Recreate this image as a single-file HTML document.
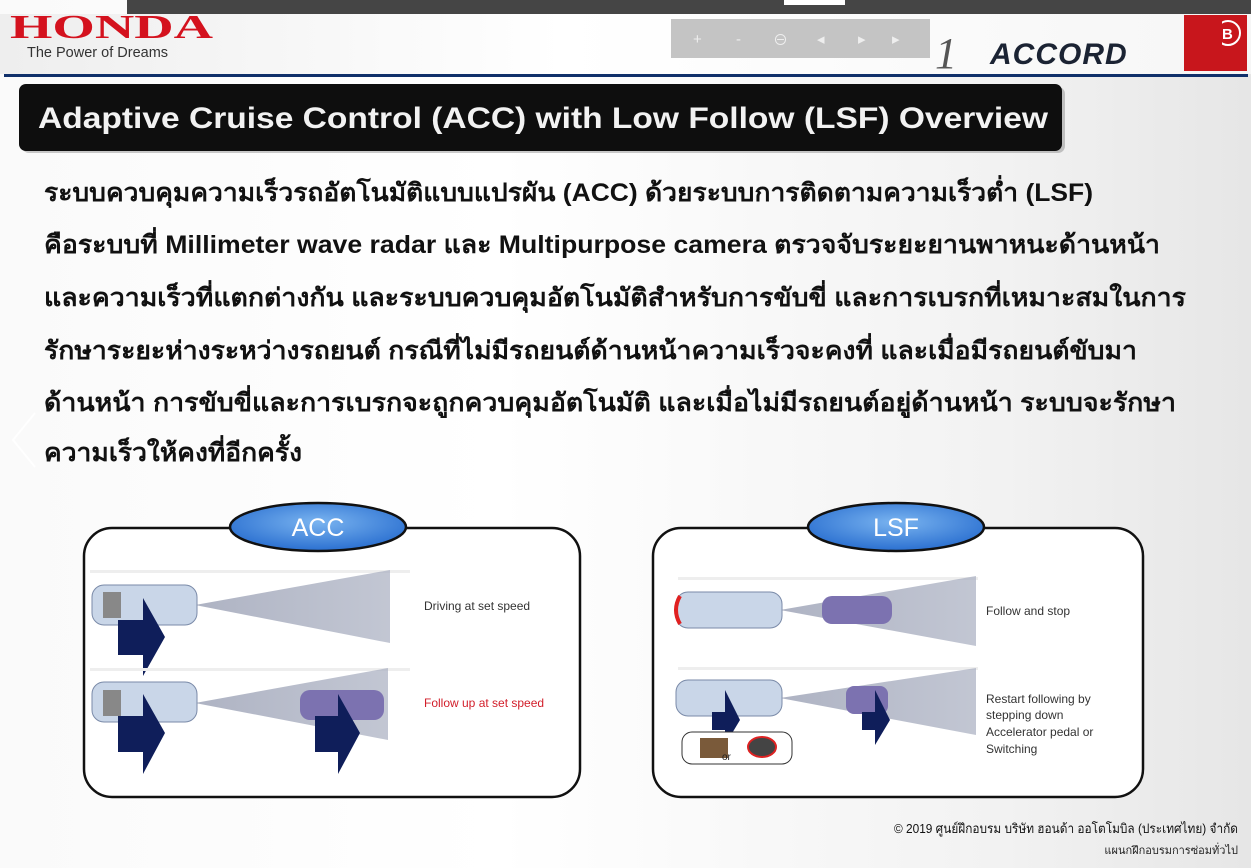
<!DOCTYPE html>
<html><head><meta charset="utf-8">
<style>
html,body{margin:0;padding:0;width:1251px;height:868px;overflow:hidden;background:#fff}
.wrap{position:relative;width:1251px;height:868px;background:linear-gradient(90deg,#fafafa 0%,#fff 40%,#f2f2f2 80%,#e6e6e6 100%);font-family:"Liberation Sans","Noto Sans CJK SC",sans-serif}
svg{position:absolute;left:0;top:0}
.th{font-family:"Liberation Sans","DejaVu Sans",sans-serif;font-size:25px;font-weight:bold;fill:#111}
</style></head><body><div class="wrap">
<svg width="1251" height="868" viewBox="0 0 1251 868">
<defs>
<linearGradient id="hdr" x1="0" x2="1"><stop offset="0" stop-color="#eee"/><stop offset="0.45" stop-color="#fff"/><stop offset="1" stop-color="#f6f6f6"/></linearGradient>
<radialGradient id="ell" cx="0.5" cy="0.4" r="0.6"><stop offset="0" stop-color="#7ab4f0"/><stop offset="1" stop-color="#2a6fd0"/></radialGradient>
<linearGradient id="beam" x1="0" x2="1"><stop offset="0" stop-color="#9aa0b4" stop-opacity="0.8"/><stop offset="1" stop-color="#a8aec0" stop-opacity="0.7"/></linearGradient>
</defs>
<rect x="0" y="14" width="1251" height="60" fill="url(#hdr)"/>
<rect x="127" y="0" width="1124" height="14" fill="#454545"/>
<rect x="784" y="0" width="61" height="5" fill="#fff"/>
<text x="10" y="38" font-family="Liberation Serif" font-weight="bold" font-size="34" fill="#d4121e" textLength="203" lengthAdjust="spacingAndGlyphs">HONDA</text>
<text x="27" y="57" font-size="14.5" fill="#333">The Power of Dreams</text>
<rect x="671" y="19" width="259" height="39" fill="#c4c4c4"/>
<g fill="#eee" font-size="15"><text x="693" y="44">+</text><text x="736" y="44">-</text><text x="773" y="45">⊖</text><text x="817" y="44">◂</text><text x="858" y="44">▸</text><text x="892" y="44">▸</text></g>
<text x="935" y="68" font-family="Liberation Serif" font-style="italic" font-size="44" fill="#555">1</text>
<text x="990" y="64" font-size="30" font-weight="bold" font-style="italic" fill="#1b2333" letter-spacing="1">ACCORD</text>
<rect x="1184" y="15" width="63" height="56" fill="#c8161c"/>
<circle cx="1228" cy="33" r="12" fill="none" stroke="#fff" stroke-width="2"/>
<text x="1222" y="39" font-size="15" fill="#fff" font-weight="bold">B</text>
<rect x="1202" y="15" width="20" height="41" fill="#c8161c"/>
<rect x="4" y="74" width="1244" height="3" fill="#10306a"/>
<rect x="22" y="87" width="1043" height="66" rx="7" fill="#666" opacity="0.35"/>
<rect x="19" y="84" width="1043" height="67" rx="7" fill="#0e0e0e"/>
<text x="38" y="128" font-size="30" font-weight="bold" fill="#f2f2f2" font-family="Liberation Sans" textLength="1010" lengthAdjust="spacingAndGlyphs">Adaptive Cruise Control (ACC) with Low Follow (LSF) Overview</text>
<path d="M35 413 L13 440 L35 467" fill="none" stroke="#fff" stroke-width="2"/>

<text class="th" x="44" y="201" textLength="1049" lengthAdjust="spacingAndGlyphs">ระบบควบคุมความเร็วรถอัตโนมัติแบบแปรผัน (ACC) ด้วยระบบการติดตามความเร็วต่ำ (LSF)</text>
<text class="th" x="44" y="253" textLength="1116" lengthAdjust="spacingAndGlyphs">คือระบบที่ Millimeter wave radar และ Multipurpose camera ตรวจจับระยะยานพาหนะด้านหน้า</text>
<text class="th" x="44" y="306" textLength="1142" lengthAdjust="spacingAndGlyphs">และความเร็วที่แตกต่างกัน และระบบควบคุมอัตโนมัติสำหรับการขับขี่ และการเบรกที่เหมาะสมในการ</text>
<text class="th" x="44" y="359" textLength="1093" lengthAdjust="spacingAndGlyphs">รักษาระยะห่างระหว่างรถยนต์ กรณีที่ไม่มีรถยนต์ด้านหน้าความเร็วจะคงที่ และเมื่อมีรถยนต์ขับมา</text>
<text class="th" x="44" y="411" textLength="1132" lengthAdjust="spacingAndGlyphs">ด้านหน้า การขับขี่และการเบรกจะถูกควบคุมอัตโนมัติ และเมื่อไม่มีรถยนต์อยู่ด้านหน้า ระบบจะรักษา</text>
<text class="th" x="44" y="461" textLength="258" lengthAdjust="spacingAndGlyphs">ความเร็วให้คงที่อีกครั้ง</text>

<!-- ACC box -->
<rect x="84" y="528" width="496" height="269" rx="28" fill="#fff" stroke="#111" stroke-width="2.5"/>
<ellipse cx="318" cy="527" rx="88" ry="24" fill="url(#ell)" stroke="#111" stroke-width="2.5"/>
<text x="318" y="536" text-anchor="middle" font-size="25" fill="#fff">ACC</text>
<rect x="90" y="570" width="320" height="3" fill="#eee"/>
<polygon points="195,605 390,570 390,643" fill="url(#beam)"/>
<rect x="92" y="585" width="105" height="40" rx="12" fill="#c9d6e8" stroke="#7a8aa8"/>
<rect x="103" y="592" width="18" height="26" fill="#888"/>
<polygon points="118,620 143,620 143,598 165,637 143,676 143,655 118,655" fill="#0f1e5a"/>
<rect x="90" y="668" width="320" height="3" fill="#eee"/>
<polygon points="195,703 388,668 388,740" fill="url(#beam)"/>
<rect x="92" y="682" width="105" height="40" rx="12" fill="#c9d6e8" stroke="#7a8aa8"/>
<rect x="103" y="690" width="18" height="26" fill="#888"/>
<polygon points="118,716 143,716 143,694 165,733 143,774 143,752 118,752" fill="#0f1e5a"/>
<rect x="300" y="690" width="84" height="30" rx="10" fill="#7c72b0"/>
<polygon points="315,716 338,716 338,694 360,733 338,774 338,752 315,752" fill="#0f1e5a"/>
<text x="424" y="610" font-size="12" fill="#333">Driving at set speed</text>
<text x="424" y="707" font-size="12" fill="#d21e2a">Follow up at set speed</text>

<!-- LSF box -->
<rect x="653" y="528" width="490" height="269" rx="28" fill="#fff" stroke="#111" stroke-width="2.5"/>
<ellipse cx="896" cy="527" rx="88" ry="24" fill="url(#ell)" stroke="#111" stroke-width="2.5"/>
<text x="896" y="536" text-anchor="middle" font-size="25" fill="#fff">LSF</text>
<rect x="678" y="577" width="300" height="3" fill="#eee"/>
<polygon points="780,610 976,576 976,646" fill="url(#beam)"/>
<rect x="676" y="592" width="106" height="36" rx="12" fill="#c9d6e8" stroke="#7a8aa8"/>
<path d="M680 596 Q672 610 680 624" stroke="#e02020" stroke-width="4" fill="none"/>
<rect x="822" y="596" width="70" height="28" rx="10" fill="#7c72b0"/>
<rect x="678" y="667" width="300" height="3" fill="#eee"/>
<polygon points="780,698 976,668 976,735" fill="url(#beam)"/>
<rect x="676" y="680" width="106" height="36" rx="12" fill="#c9d6e8" stroke="#7a8aa8"/>
<polygon points="712,712 725,712 725,690 740,720 725,745 725,730 712,730" fill="#0f1e5a"/>
<rect x="846" y="686" width="42" height="28" rx="8" fill="#7c72b0"/>
<polygon points="862,712 875,712 875,690 890,720 875,745 875,730 862,730" fill="#0f1e5a"/>
<rect x="682" y="732" width="110" height="32" rx="10" fill="#fff" stroke="#333"/>
<rect x="700" y="738" width="28" height="20" fill="#7a5a3a"/>
<text x="722" y="760" font-size="10" fill="#222">or</text>
<ellipse cx="762" cy="747" rx="14" ry="10" fill="#444" stroke="#d22" stroke-width="2"/>
<g font-size="12" fill="#333"><text x="986" y="615">Follow and stop</text>
<text x="986" y="703">Restart following by</text><text x="986" y="719">stepping down</text><text x="986" y="736">Accelerator pedal or</text><text x="986" y="753">Switching</text></g>

<text x="1238" y="833" text-anchor="end" font-size="13" fill="#111" textLength="344" lengthAdjust="spacingAndGlyphs">© 2019 ศูนย์ฝึกอบรม บริษัท ฮอนด้า ออโตโมบิล (ประเทศไทย) จำกัด</text>
<text x="1238" y="854" text-anchor="end" font-size="11" fill="#222">แผนกฝึกอบรมการซ่อมทั่วไป</text>
</svg>
</div></body></html>
